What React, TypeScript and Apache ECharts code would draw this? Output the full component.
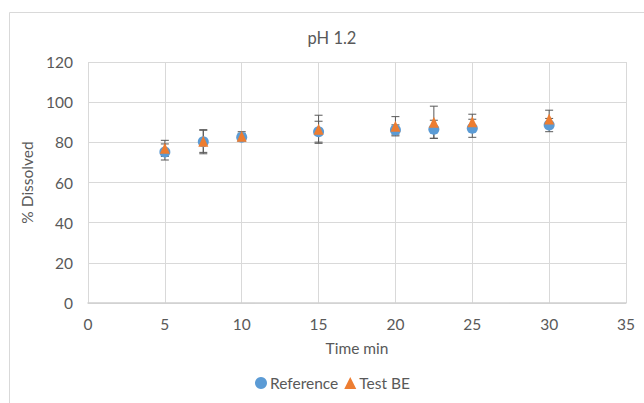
import React, { useEffect, useRef } from "react";
import * as echarts from "echarts";

const times = [5, 7.5, 10, 15, 20, 22.5, 25, 30];
const referenceMean = [75.2, 80.3, 82.5, 85.3, 86.2, 86.5, 87.0, 88.6];
const referenceSd = [4.0, 6.0, 2.0, 5.2, 2.5, 4.5, 4.5, 3.3];
const testMean = [77.0, 80.5, 83.0, 86.5, 88.0, 90.0, 90.3, 91.6];
const testSd = [4.0, 5.5, 2.3, 7.0, 4.8, 8.0, 3.7, 4.4];
const xTicks = [0, 5, 10, 15, 20, 25, 30, 35];
const yTicks = [0, 20, 40, 60, 80, 100, 120];

const FONT = "Lato, 'Liberation Sans', sans-serif";
const TEXT = "#595959";

function errorData(means: number[], sds: number[]) {
  return times.map((t, i) => [t, means[i] - sds[i], means[i] + sds[i]]);
}

function errorSeries(name: string, data: number[][]) {
  return {
    type: "custom",
    name,
    silent: true,
    z: 1,
    data,
    encode: { x: 0, y: [1, 2] },
    renderItem: (params: any, api: any) => {
      const x = api.value(0);
      const lo = api.coord([x, api.value(1)]);
      const hi = api.coord([x, api.value(2)]);
      const half = 4;
      const style = { stroke: "#595959", lineWidth: 1, fill: "none" };
      return {
        type: "group",
        children: [
          { type: "line", shape: { x1: lo[0], y1: lo[1], x2: hi[0], y2: hi[1] }, style },
          { type: "line", shape: { x1: lo[0] - half, y1: lo[1], x2: lo[0] + half, y2: lo[1] }, style },
          { type: "line", shape: { x1: hi[0] - half, y1: hi[1], x2: hi[0] + half, y2: hi[1] }, style },
        ],
      };
    },
  };
}

export default function App() {
  const ref = useRef<HTMLDivElement>(null);
  useEffect(() => {
    document.body.style.margin = "0";
    const chart = echarts.init(ref.current!, null, { renderer: "svg" });
    chart.setOption({
      animation: false,
      backgroundColor: "#ffffff",
      textStyle: { fontFamily: FONT },
      title: {
        text: "pH 1.2",
        left: 327,
        textAlign: "center",
        top: 24,
        textStyle: { fontFamily: FONT, fontSize: 16.5, fontWeight: "normal", color: TEXT },
      },
      graphic: [
        {
          type: "rect",
          shape: { x: 9.5, y: 12.5, width: 700, height: 500 },
          style: { fill: "none", stroke: "#D9D9D9", lineWidth: 1 },
          silent: true,
        },
      ],
      legend: {
        bottom: 7,
        left: 250,
        itemWidth: 12,
        itemHeight: 12,
        itemGap: 6,
        textStyle: { fontFamily: FONT, fontSize: 15.5, color: TEXT, padding: [0, 0, 0, -2] },
        data: [
          { name: "Reference", icon: "circle" },
          { name: "Test BE", icon: "triangle" },
        ],
      },
      grid: { left: 88, right: 18, top: 62, bottom: 100 },
      xAxis: {
        type: "value",
        min: 0,
        max: 35,
        interval: 5,
        name: "Time min",
        nameLocation: "middle",
        nameGap: 37,
        nameTextStyle: { fontFamily: FONT, fontSize: 15.5, color: TEXT },
        axisLine: { show: true, lineStyle: { color: "#D0D0D0", width: 1.5 } },
        axisTick: { show: false },
        axisLabel: { fontFamily: FONT, fontSize: 15.5, color: TEXT, margin: 13, formatter: (v: number) => (xTicks.includes(v) ? String(v) : "") },
        splitLine: { show: true, lineStyle: { color: "#D9D9D9", width: 1 } },
      },
      yAxis: {
        type: "value",
        min: 0,
        max: 120,
        interval: 20,
        name: "% Dissolved",
        nameLocation: "middle",
        nameGap: 48,
        nameRotate: 90,
        nameTextStyle: { fontFamily: FONT, fontSize: 15.5, color: TEXT },
        axisLine: { show: false },
        axisTick: { show: false },
        axisLabel: { fontFamily: FONT, fontSize: 15.5, color: TEXT, margin: 15, formatter: (v: number) => (yTicks.includes(v) ? String(v) : "") },
        splitLine: { show: true, lineStyle: { color: "#D9D9D9", width: 1 } },
      },
      series: [
        errorSeries("Reference err", errorData(referenceMean, referenceSd)),
        errorSeries("Test BE err", errorData(testMean, testSd)),
        {
          type: "scatter",
          name: "Reference",
          symbol: "circle",
          symbolSize: 11,
          z: 2,
          itemStyle: { color: "#5B9BD5", opacity: 1 },
          data: times.map((t, i) => [t, referenceMean[i]]),
        },
        {
          type: "scatter",
          name: "Test BE",
          symbol: "triangle",
          symbolSize: [10, 11],
          z: 3,
          itemStyle: { color: "#ED7D31", opacity: 1 },
          data: times.map((t, i) => [t, testMean[i]]),
        },
      ],
    });
    return () => chart.dispose();
  }, []);
  return <div ref={ref} style={{ width: 644, height: 403 }} />;
}
